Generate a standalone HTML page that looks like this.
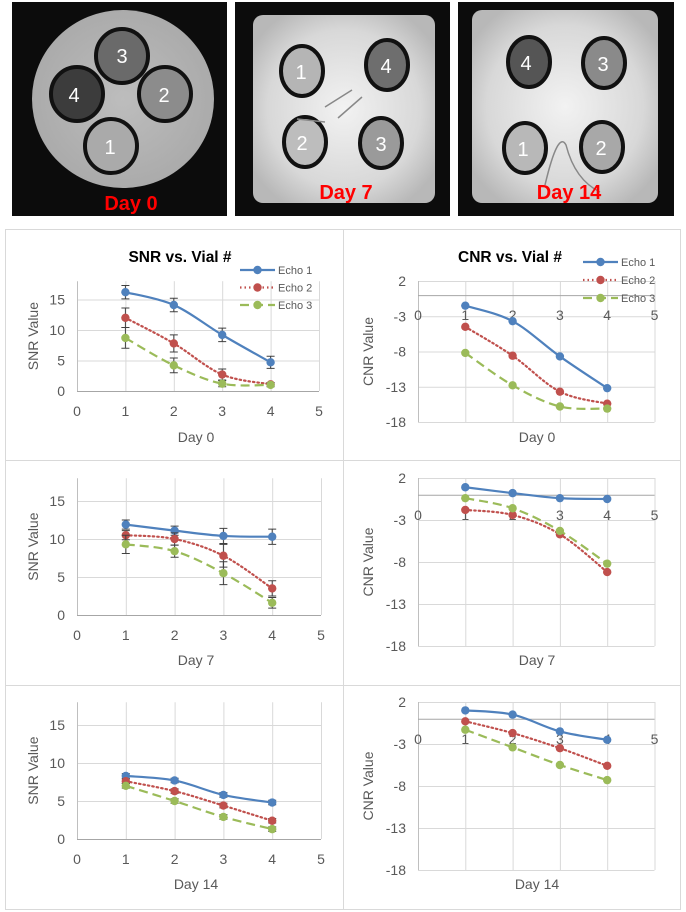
<!DOCTYPE html>
<html><head><meta charset="utf-8"><style>
html,body{margin:0;padding:0;background:#fff;}
svg{display:block;font-family:"Liberation Sans",sans-serif;}
</style></head><body>
<svg id="s" width="686" height="912" viewBox="0 0 686 912" xmlns="http://www.w3.org/2000/svg">
<defs>
<radialGradient id="g1" cx="50%" cy="50%" r="55%"><stop offset="0" stop-color="#bdbdbd"/><stop offset="1" stop-color="#a9a9a9"/></radialGradient>
<radialGradient id="g2" cx="50%" cy="50%" r="60%"><stop offset="0" stop-color="#f2f2f2"/><stop offset="0.7" stop-color="#d8d8d8"/><stop offset="1" stop-color="#b8b8b8"/></radialGradient>
</defs>
<g>
<g>
<rect x="12" y="2" width="215" height="214" fill="#0c0c0c"/>
<ellipse cx="123" cy="99" rx="91" ry="89" fill="url(#g1)"/>
<ellipse cx="122" cy="56" rx="26" ry="27" fill="#6a6a6a" stroke="#111" stroke-width="4"/>
<ellipse cx="77" cy="94" rx="26" ry="27" fill="#3c3c3c" stroke="#111" stroke-width="4"/>
<ellipse cx="165" cy="94" rx="26" ry="27" fill="#8c8c8c" stroke="#111" stroke-width="4"/>
<ellipse cx="111" cy="146" rx="26" ry="27" fill="#aaa" stroke="#111" stroke-width="4"/>
<g fill="#fff" font-size="20" text-anchor="middle"><text x="122" y="63">3</text><text x="74" y="102">4</text><text x="164" y="102">2</text><text x="110" y="154">1</text></g>
<text x="131" y="210" fill="#ff0000" font-weight="bold" font-size="20" text-anchor="middle">Day 0</text>
</g>
<g>
<rect x="235" y="2" width="215" height="214" fill="#0c0c0c"/>
<rect x="253" y="15" width="182" height="188" rx="10" fill="url(#g2)"/>
<ellipse cx="302" cy="71" rx="21" ry="25" fill="#b5b5b5" stroke="#111" stroke-width="4"/>
<ellipse cx="387" cy="65" rx="21" ry="25" fill="#6e6e6e" stroke="#111" stroke-width="4"/>
<ellipse cx="305" cy="142" rx="21" ry="25" fill="#bdbdbd" stroke="#111" stroke-width="4"/>
<ellipse cx="381" cy="143" rx="21" ry="25" fill="#9a9a9a" stroke="#111" stroke-width="4"/>
<path d="M325 107 L352 90 M338 118 L362 97 M297 119 L325 122" stroke="#888" stroke-width="1.5" fill="none"/>
<g fill="#fff" font-size="20" text-anchor="middle"><text x="301" y="79">1</text><text x="386" y="73">4</text><text x="302" y="150">2</text><text x="381" y="151">3</text></g>
<text x="346" y="199" fill="#ff0000" font-weight="bold" font-size="20" text-anchor="middle">Day 7</text>
</g>
<g>
<rect x="458" y="2" width="216" height="214" fill="#0c0c0c"/>
<rect x="472" y="10" width="186" height="193" rx="10" fill="url(#g2)"/>
<ellipse cx="529" cy="62" rx="21" ry="25" fill="#555" stroke="#111" stroke-width="4"/>
<ellipse cx="604" cy="63" rx="21" ry="25" fill="#8a8a8a" stroke="#111" stroke-width="4"/>
<ellipse cx="525" cy="148" rx="21" ry="25" fill="#b8b8b8" stroke="#111" stroke-width="4"/>
<ellipse cx="602" cy="147" rx="21" ry="25" fill="#a8a8a8" stroke="#111" stroke-width="4"/>
<path d="M545 185 Q558 130 566 145 Q575 180 600 192" stroke="#888" stroke-width="1.5" fill="none"/>
<g fill="#fff" font-size="20" text-anchor="middle"><text x="526" y="70">4</text><text x="603" y="71">3</text><text x="523" y="156">1</text><text x="601" y="155">2</text></g>
<text x="569" y="199" fill="#ff0000" font-weight="bold" font-size="20" text-anchor="middle">Day 14</text>
</g>
</g>
<g stroke="#d9d9d9" fill="none">
<rect x="5.5" y="229.5" width="675" height="680"/>
<line x1="343.5" y1="229" x2="343.5" y2="910"/>
<line x1="5" y1="460.5" x2="681" y2="460.5"/>
<line x1="5" y1="685.5" x2="681" y2="685.5"/>
</g>
<g id="charts"></g>
</svg>
<script>
const vials = [1, 2, 3, 4];
const snrTicks = [0, 5, 10, 15];
const cnrTicks = [2, -3, -8, -13, -18];
const xTicks = [0, 1, 2, 3, 4, 5];
const seriesNames = ["Echo 1", "Echo 2", "Echo 3"];
const snrDay0 = [[16.2, 14.1, 9.2, 4.7], [12.0, 7.8, 2.7, 1.1], [8.7, 4.2, 1.2, 1.0]];
const snrDay0Err = [[1.1, 1.1, 1.1, 1.0], [1.6, 1.4, 0.9, 0.3], [1.7, 1.2, 0.5, 0.3]];
const snrDay7 = [[11.9, 11.1, 10.4, 10.3], [10.5, 10.0, 7.8, 3.5], [9.3, 8.4, 5.5, 1.6]];
const snrDay7Err = [[0.6, 0.6, 1.0, 1.0], [0.6, 0.8, 1.5, 1.0], [1.2, 0.8, 1.5, 0.7]];
const snrDay14 = [[8.3, 7.7, 5.8, 4.8], [7.6, 6.3, 4.4, 2.4], [7.0, 5.0, 2.9, 1.3]];
const snrDay14Err = [[0.3, 0.3, 0.3, 0.3], [0.3, 0.3, 0.3, 0.3], [0.3, 0.3, 0.3, 0.3]];
const cnrDay0 = [[-1.5, -3.7, -8.7, -13.2], [-4.5, -8.6, -13.7, -15.4], [-8.2, -12.8, -15.8, -16.1]];
const cnrDay7 = [[0.9, 0.2, -0.4, -0.5], [-1.8, -2.4, -4.7, -9.2], [-0.4, -1.6, -4.3, -8.2]];
const cnrDay14 = [[1.0, 0.5, -1.5, -2.5], [-0.3, -1.7, -3.5, -5.6], [-1.3, -3.4, -5.5, -7.3]];

const NS = "http://www.w3.org/2000/svg";
const root = document.getElementById("charts");
const colors = ["#4f81bd", "#c0504d", "#9bbb59"];
const dashes = ["", "1.5 3", "9 5"];
function el(tag, attrs, parent, text) {
  const e = document.createElementNS(NS, tag);
  for (const k in attrs) e.setAttribute(k, attrs[k]);
  if (text !== undefined) e.textContent = text;
  (parent || root).appendChild(e);
  return e;
}
function chart(c) {
  const g = el("g", {});
  
  
  const xs = v => c.x0 + v * c.xu;
  const ys = v => c.y0 - (v - c.ymin) * c.yu;
  const yTop = ys(c.ymax), yBot = ys(c.ymin);
  // grid
  c.yTicks.forEach(t => {
    if (c.kind === "snr" && t === c.ymin) return;
    const l = el("line", {x1: xs(0), x2: xs(5), y1: ys(t) + 0.5, y2: ys(t) + 0.5, stroke: "#d9d9d9"}, g);
    
    
  });
  xTicks.forEach(t => {
    if (t === 0) return;
    const l = el("line", {x1: xs(t) + 0.5, x2: xs(t) + 0.5, y1: yTop, y2: yBot, stroke: "#d9d9d9"}, g);
    
    
  });
  el("line", {x1: xs(0) + 0.5, x2: xs(0) + 0.5, y1: yTop, y2: yBot, stroke: "#bfbfbf"}, g);
  const axY = ys(0);
  const ax = el("line", {x1: xs(0), x2: xs(5), y1: axY + 0.5, y2: axY + 0.5, stroke: "#a6a6a6"}, g);
  
  
  // tick labels
  c.yTicks.forEach(t => {
    const tx = el("text", {x: xs(0) - 12, y: ys(t) + 5, "text-anchor": "end", "font-size": 14, fill: "#595959"}, g, String(t));
    
    
  });
  xTicks.forEach(t => {
    const tx = el("text", {x: xs(t), y: axY + 25, "text-anchor": "middle", "font-size": 14, fill: "#595959"}, g, String(t));
    
    
  });
  const xt = el("text", {x: c.xTitleX, y: c.xTitleY, "text-anchor": "middle", "font-size": 14, fill: "#595959"}, g, c.xTitle);
  
  
  const ym = (yTop + yBot) / 2;
  const yt = el("text", {x: c.yTitleX, y: ym, "text-anchor": "middle", "font-size": 14, fill: "#595959", transform: `rotate(-90 ${c.yTitleX} ${ym})`}, g, c.yTitle);
  
  
  // series
  c.data.forEach((s, i) => {
    const sg = el("g", {}, g);
    
    
    if (c.err) {
      s.forEach((v, j) => {
        const e = c.err[i][j], x = xs(vials[j]);
        const eb = el("path", {d: `M${x} ${ys(v - e)}V${ys(v + e)}M${x - 4} ${ys(v - e)}h8M${x - 4} ${ys(v + e)}h8`, stroke: "#404040", "stroke-width": 1, fill: "none"}, sg);
        
        
      });
    }
    const pts = s.map((v, j) => [xs(vials[j]), ys(v)]);
    let d = `M${pts[0][0]} ${pts[0][1]}`;
    for (let k = 0; k < pts.length - 1; k++) {
      const p0 = pts[k - 1] || pts[k], p1 = pts[k], p2 = pts[k + 1], p3 = pts[k + 2] || p2;
      const t = 0.17;
      d += ` C${p1[0] + (p2[0] - p0[0]) * t} ${p1[1] + (p2[1] - p0[1]) * t} ${p2[0] - (p3[0] - p1[0]) * t} ${p2[1] - (p3[1] - p1[1]) * t} ${p2[0]} ${p2[1]}`;
    }
    const ln = el("path", {d, stroke: colors[i], "stroke-width": 2.2, fill: "none", "stroke-dasharray": dashes[i], "stroke-linecap": i === 1 ? "round" : "butt"}, sg);
    
    
    pts.forEach(p => {
      const m = el("circle", {cx: p[0], cy: p[1], r: 4.2, fill: colors[i]}, sg);
      
      
    });
  });
  if (c.title) {
    const tt = el("text", {x: c.titleX, y: c.titleY, "text-anchor": "middle", "font-size": 15.5, "font-weight": "bold", fill: "#000"}, g, c.title);
    
    
  }
  if (c.legend) {
    const lg = el("g", {}, g);
    
    
    seriesNames.forEach((n, i) => {
      const y = c.legend.y + i * c.legend.dy;
      const en = el("g", {}, lg);
      
      
      el("line", {x1: c.legend.x, x2: c.legend.x + 35, y1: y, y2: y, stroke: colors[i], "stroke-width": 2.2, "stroke-dasharray": dashes[i]}, en);
      el("circle", {cx: c.legend.x + 17.5, cy: y, r: 4.2, fill: colors[i]}, en);
      el("text", {x: c.legend.x + 38, y: y + 4, "font-size": 11, fill: "#595959"}, en, n);
    });
  }
}
const snrCommon = {kind: "snr", x0: 77, xu: 48.8, ymin: 0, ymax: 18, yTicks: snrTicks, yTitle: "SNR Value", yTitleX: 38, xTitleX: 196};
const cnrCommon = {kind: "cnr", x0: 418, xu: 47.3, ymin: -18, ymax: 2, yTicks: cnrTicks, yTitle: "CNR Value", yTitleX: 373, xTitleX: 537};
chart(Object.assign({}, snrCommon, {name: "snr-day-0-chart", y0: 391, yu: 6.1, data: snrDay0, err: snrDay0Err, xTitle: "Day 0", xTitleY: 442, title: "SNR vs. Vial #", titleX: 180, titleY: 262, legend: {x: 240, y: 270, dy: 17.5}, x0: 77, xu: 48.4}));
chart(Object.assign({}, snrCommon, {name: "snr-day-7-chart", y0: 615, yu: 7.6, data: snrDay7, err: snrDay7Err, xTitle: "Day 7", xTitleY: 665}));
chart(Object.assign({}, snrCommon, {name: "snr-day-14-chart", y0: 839, yu: 7.6, data: snrDay14, err: snrDay14Err, xTitle: "Day 14", xTitleY: 889}));
chart(Object.assign({}, cnrCommon, {name: "cnr-day-0-chart", y0: 422, yu: 7.05, data: cnrDay0, xTitle: "Day 0", xTitleY: 442, title: "CNR vs. Vial #", titleX: 510, titleY: 262, legend: {x: 583, y: 262, dy: 18}}));
chart(Object.assign({}, cnrCommon, {name: "cnr-day-7-chart", y0: 646, yu: 8.4, data: cnrDay7, xTitle: "Day 7", xTitleY: 665}));
chart(Object.assign({}, cnrCommon, {name: "cnr-day-14-chart", y0: 870, yu: 8.4, data: cnrDay14, xTitle: "Day 14", xTitleY: 889}));
</script>
</body></html>
